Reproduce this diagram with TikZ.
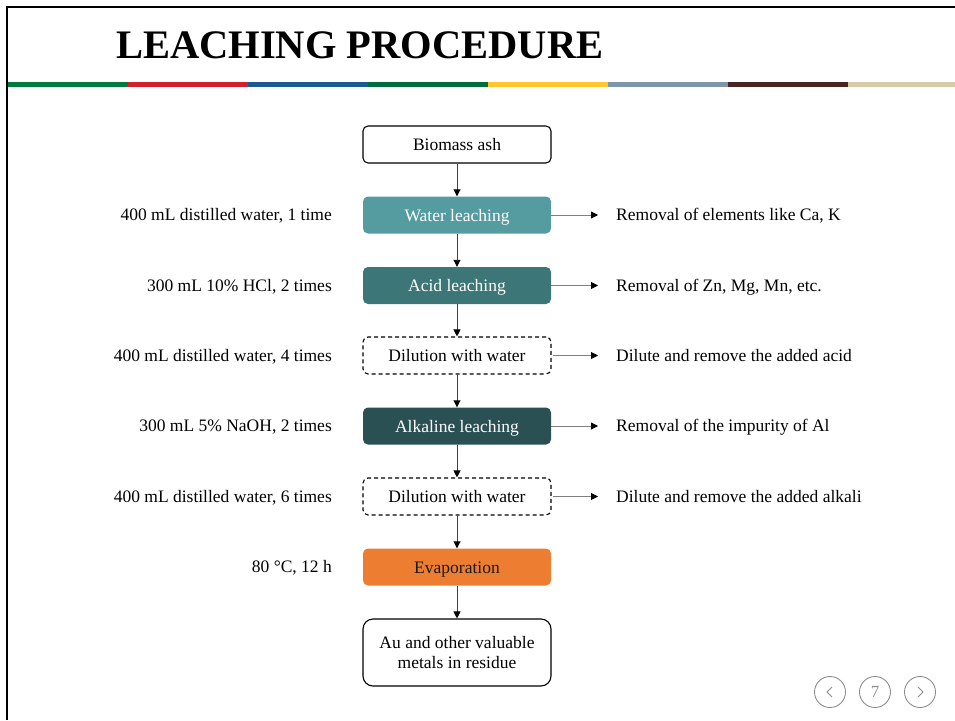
\documentclass[tikz,border=0pt]{standalone}
\usepackage{fontspec}
\setmainfont{Liberation Serif}
\usetikzlibrary{arrows.meta}
\definecolor{cwater}{HTML}{559CA1}
\definecolor{cacid}{HTML}{3D7676}
\definecolor{calk}{HTML}{2A5053}
\definecolor{cevap}{HTML}{ED7D31}
\definecolor{bA}{HTML}{007A3D}
\definecolor{bB}{HTML}{D0202E}
\definecolor{bC}{HTML}{1B5A8E}
\definecolor{bD}{HTML}{006B3F}
\definecolor{bE}{HTML}{FFC72C}
\definecolor{bF}{HTML}{7F95AC}
\definecolor{bG}{HTML}{4A2323}
\definecolor{bH}{HTML}{D9C8A9}
\tikzset{
  box/.style={rounded corners=5pt, minimum width=188pt, minimum height=37pt, inner sep=0pt, font=\fontsize{17.5}{20}\selectfont, align=center},
  oneline/.style={text height=14pt, text depth=1.6pt},
  plainbox/.style={box, draw=black, line width=1.1pt},
  fillbox/.style={box, oneline, text=white},
  dashbox/.style={box, oneline, draw=black, line width=1.1pt, dash pattern=on 4pt off 3pt},
  side/.style={font=\fontsize{17.5}{20}\selectfont, inner sep=0pt, text height=13pt, text depth=1.6pt},
  vflow/.style={draw=black!75, line width=0.9pt, -{Triangle[length=7pt,width=7pt,color=black]}},
  hflow/.style={draw=black!50, line width=0.9pt, -{Triangle[length=7pt,width=7pt,color=black]}},
  navc/.style={circle, draw=black!45, line width=0.9pt, minimum size=31pt, inner sep=0pt}
}
\begin{document}
\begin{tikzpicture}[x=1pt,y=-1pt]
\useasboundingbox (0,0) rectangle (955,720);
% page frame
\draw[line width=2pt] (7,720) -- (7,7) -- (955,7);
% title
\node[anchor=base west, inner sep=0pt, font=\fontsize{40.5}{44}\selectfont\bfseries] (title) at (116,58) {LEACHING PROCEDURE};
% colour bar
\foreach \c [count=\i from 0] in {bA,bB,bC,bD,bE,bF,bG,bH} {
  \fill[\c] ({8+120*\i},81.5) rectangle ({min(955,128+120*\i)},87);
}
% flow boxes
\node[plainbox, oneline] (ash) at (457,144.5) {Biomass ash};
\node[fillbox, fill=cwater] (water) at (457,215) {Water leaching};
\node[fillbox, fill=cacid] (acid) at (457,285.5) {Acid leaching};
\node[dashbox] (dil1) at (457,355.5) {Dilution with water};
\node[fillbox, fill=calk] (alk) at (457,426) {Alkaline leaching};
\node[dashbox] (dil2) at (457,496.5) {Dilution with water};
\node[box, oneline, fill=cevap, text=black!90] (evap) at (457,567) {Evaporation};
\node[plainbox, rounded corners=10pt, minimum height=67pt] (res) at (457,652.5) {Au and other valuable\\metals in residue};
% vertical arrows
\draw[vflow] (ash) -- (water);
\draw[vflow] (water) -- (acid);
\draw[vflow] (acid) -- (dil1);
\draw[vflow] (dil1) -- (alk);
\draw[vflow] (alk) -- (dil2);
\draw[vflow] (dil2) -- (evap);
\draw[vflow] (evap) -- (res);
% left conditions
\node[side, anchor=east] (l1) at (332,215) {400 mL distilled water, 1 time};
\node[side, anchor=east] (l2) at (332,285.5) {300 mL 10\% HCl, 2 times};
\node[side, anchor=east] (l3) at (332,355.5) {400 mL distilled water, 4 times};
\node[side, anchor=east] (l4) at (332,426) {300 mL 5\% NaOH, 2 times};
\node[side, anchor=east] (l5) at (332,496.5) {400 mL distilled water, 6 times};
\node[side, anchor=east] (l6) at (332,567) {80 °C, 12 h};
% right outcomes
\node[side, anchor=west] (r1) at (616,215) {Removal of elements like Ca, K};
\node[side, anchor=west] (r2) at (616,285.5) {Removal of Zn, Mg, Mn, etc.};
\node[side, anchor=west] (r3) at (616,355.5) {Dilute and remove the added acid};
\node[side, anchor=west] (r4) at (616,426) {Removal of the impurity of Al};
\node[side, anchor=west] (r5) at (616,496.5) {Dilute and remove the added alkali};
\coordinate (e1) at (598,215);
\coordinate (e2) at (598,285.5);
\coordinate (e3) at (598,355.5);
\coordinate (e4) at (598,426);
\coordinate (e5) at (598,496.5);
\draw[hflow] (water.east) -- (e1);
\draw[hflow] (acid.east) -- (e2);
\draw[hflow] ([xshift=1.5pt]dil1.east) -- (e3);
\draw[hflow] (alk.east) -- (e4);
\draw[hflow] ([xshift=1.5pt]dil2.east) -- (e5);
% navigation
\node[navc] (prev) at (830,692) {};
\node[navc, text=black!45, font=\fontsize{17}{19}\selectfont] (page) at (875,692) {7};
\node[navc] (next) at (920,692) {};
\draw[black!45, line width=0.9pt] ([xshift=2pt,yshift=-5pt]prev.center) -- ([xshift=-3pt]prev.center) -- ([xshift=2pt,yshift=5pt]prev.center);
\draw[black!45, line width=0.9pt] ([xshift=-2pt,yshift=-5pt]next.center) -- ([xshift=3pt]next.center) -- ([xshift=-2pt,yshift=5pt]next.center);
\end{tikzpicture}
\end{document}
